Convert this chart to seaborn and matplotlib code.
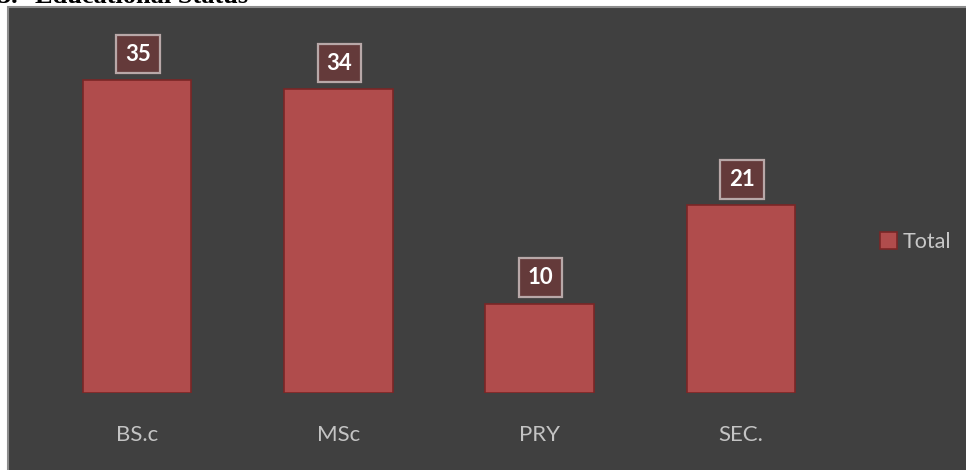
import matplotlib
matplotlib.use("Agg")
import matplotlib.pyplot as plt
import seaborn as sns
import pandas as pd
from matplotlib.patches import Rectangle, Patch

# data
categories = ["BS.c", "MSc", "PRY", "SEC."]
totals = [35, 34, 10, 21]
series_name = "Total"

df = pd.DataFrame({"status": categories, "count": totals})

sns.set_theme(style="white")
plt.rcParams["font.family"] = ["Lato", "DejaVu Sans"]

W, H = 966, 470
fig = plt.figure(figsize=(W / 100, H / 100), dpi=100)
fig.patch.set_facecolor("white")

# dark chart area with thin light border
fig.patches.append(Rectangle((8 / W, -0.01), 1.0, 1 - 7 / H + 0.01,
                             transform=fig.transFigure, facecolor="#404040",
                             edgecolor="#8c8c8c", linewidth=1.5, zorder=-5))

# title, cut off at the top of the picture (as in the source)
fig.text(-2 / W, 1 - 3 / H, "3:", fontsize=19, fontweight="bold",
         family="Liberation Serif", va="baseline", ha="left", color="black")
fig.text(35 / W, 1 - 3 / H, "Educational Status", fontsize=19, fontweight="bold",
         family="Liberation Serif", va="baseline", ha="left", color="black")

ax = fig.add_axes([36.5 / W, (H - 393) / H, 805 / W, 357.6 / H])
ax.set_facecolor("none")
ax.set_zorder(2)

bar_color = "#b04c4c"
edge_color = "#7a2626"
sns.barplot(data=df, x="status", y="count", color=bar_color, width=0.54,
            edgecolor=edge_color, linewidth=1.2, saturation=1, ax=ax)
ax.set_ylim(0, 40)
ax.set_xlim(-0.5, len(categories) - 0.5)

for patch, val in zip(ax.patches, totals):
    cx = patch.get_x() + patch.get_width() / 2
    ax.annotate(str(val), (cx, patch.get_height()), xytext=(1, 26),
                textcoords="offset pixels", ha="center", va="center",
                fontsize=16, fontweight="bold", color="white",
                bbox=dict(boxstyle="square,pad=0.4", facecolor="#643a3a",
                          edgecolor="#b8a8a8", linewidth=1.6))

for s in ax.spines.values():
    s.set_visible(False)
ax.set_yticks([])
ax.set_xlabel("")
ax.set_ylabel("")
ax.tick_params(axis="x", length=0, pad=23, labelsize=16, labelcolor="#c4c4c4")

handle = Patch(facecolor=bar_color, edgecolor=edge_color, linewidth=1.2)
leg = fig.legend(handles=[handle], labels=[series_name], loc="center left",
                 bbox_to_anchor=(880 / W, 1 - 242 / H), frameon=False,
                 fontsize=15.5, handlelength=0.8, handleheight=0.8,
                 handletextpad=0.25, borderpad=0, borderaxespad=0)
for t in leg.get_texts():
    t.set_color("#c8c8c8")

fig.savefig("out.png", dpi=100)
